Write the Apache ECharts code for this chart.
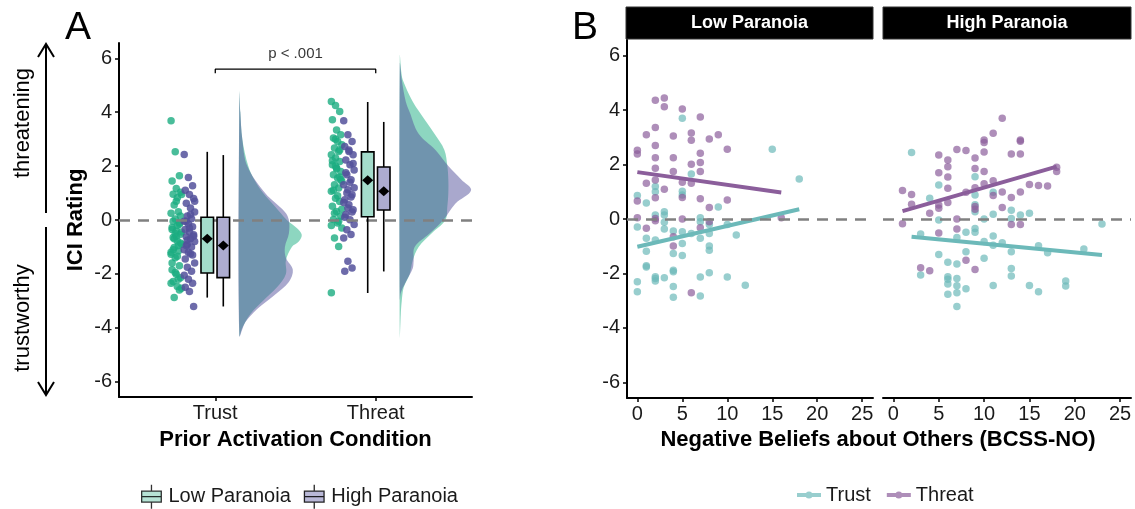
<!DOCTYPE html>
<html style="height: 100%">
<head>
<meta charset="utf-8">
<title>ICI Rating by condition and paranoia</title>
<script src="https://cdn.jsdelivr.net/npm/echarts@6.0.0/dist/echarts.min.js"></script>
</head>
<body style="height: 100%; margin: 0; background: #fff">
<div id="target" style="width: 1135px; height: 509px"></div>
<script>
// ---- data ----
const conditions = ['Trust', 'Threat'];
const groups = ['Low Paranoia', 'High Paranoia'];
const trials = ['Trust', 'Threat'];
const yTicks = [-6, -4, -2, 0, 2, 4, 6];
const bcssTicks = [0, 5, 10, 15, 20, 25];

// panel A: individual ICI ratings
const trustLow = [3.68, 2.53, 1.64, 1.45, 1.17, 1.03, 0.96, 0.83, 0.95, 0.56, 0.31, 0.25, 0.04, -0.16, -0.28,
  -0.41, -0.53, -0.65, -0.78, -0.9, -1.02, -1.15, -1.27, -1.4, -0.1, -0.35, -0.6, -0.85, -1.1, -0.2, -0.45,
  -0.7, -0.95, -1.2, -0.5, -1.7, -1.85, -2.01, -2.14, -2.28, -2.47, -2.53, -2.88, -2.2, -2.35, -1.95, -2.6, -1.6,
  0.7, 0.15, -0.05, -1.35];
const trustHigh = [2.43, 1.58, 1.27, 1.1, 0.95, 0.8, 0.62, 0.45, 0.3, 0.15, 0.05, -0.05, -0.15, -0.25, -0.35,
  -0.45, -0.55, -0.62, -0.7, -0.8, -0.9, -1.0, -1.1, -1.2, -1.3, -1.45, -0.3, -0.6, -0.95, 0.2, -1.6, -1.75,
  -1.9, -2.05, -2.2, -2.35, -2.5, -2.65, -3.21, -0.05, -1.25, 0.7, -0.75];
const threatLow = [4.4, 4.25, 4.03, 3.72, 3.34, 3.16, 3.04, 2.91, 2.79, 2.67, 2.54, 2.42, 2.3, 2.17, 2.05, 1.93,
  1.8, 1.68, 1.56, 1.44, 1.31, 1.19, 1.07, 0.81, 0.69, 0.51, 0.32, 0.14, 0.02, -0.11, -0.3, -0.67, -0.98, -2.7,
  3.0, 2.6, 2.2, 1.9, 1.5, 1.1, 0.9, 0.4, 0.25, -0.05, -0.2, 2.0, 1.6];
const threatHigh = [3.68, 3.16, 2.91, 2.73, 2.54, 2.42, 2.23, 2.05, 1.86, 1.68, 1.49, 1.31, 1.12, 0.94, 0.75,
  0.57, 0.38, 0.2, 0.01, -0.17, -0.36, -0.54, -0.67, -1.53, -1.78, -1.9, 2.6, 2.1, 1.75, 1.4, 1.2, 1.0, 0.85,
  0.65, 0.45, 0.3, 0.1];

// box summaries per condition: [lower whisker, Q1, Q3, upper whisker, mean]
const boxLow = [[-2.88, -1.97, 0.1, 2.53, -0.7], [-2.71, 0.12, 2.53, 4.38, 1.48]];
const boxHigh = [[-3.21, -2.14, 0.1, 2.41, -0.95], [-1.91, 0.37, 1.97, 3.64, 1.07]];

// half-violin densities: [rating, density]
const violinTrustLow = [[4.75, 0], [4, 0.01], [3, 0.03], [2, 0.09], [1.5, 0.15], [1, 0.24], [0.5, 0.36], [0, 0.48],
  [-0.3, 0.58], [-0.55, 0.63], [-0.8, 0.6], [-1, 0.53], [-1.5, 0.47], [-2, 0.47], [-2.5, 0.38], [-3, 0.24],
  [-3.5, 0.11], [-4, 0.03], [-4.3, 0]];
const violinTrustHigh = [[4.7, 0], [4, 0.01], [3, 0.03], [2, 0.08], [1, 0.26], [0.3, 0.46], [0, 0.5], [-0.5, 0.5],
  [-1, 0.46], [-1.4, 0.47], [-1.85, 0.54], [-2.3, 0.5], [-2.8, 0.35], [-3.3, 0.18], [-3.8, 0.06], [-4.3, 0]];
const violinThreatLow = [[6.1, 0], [5.5, 0.015], [5.2, 0.03], [4.4, 0.13], [4, 0.2], [3.2, 0.35], [2.6, 0.45],
  [2, 0.48], [1.5, 0.49], [1, 0.49], [0.5, 0.48], [0, 0.46], [-0.5, 0.32], [-1, 0.19], [-1.5, 0.13], [-2, 0.1],
  [-2.5, 0.04], [-3, 0.02], [-3.5, 0.01], [-4.37, 0]];
const violinThreatHigh = [[5.8, 0], [5.2, 0.02], [4.4, 0.06], [4, 0.1], [3.2, 0.19], [2.6, 0.36], [2, 0.49],
  [1.5, 0.62], [1.1, 0.72], [0.6, 0.56], [0, 0.44], [-0.5, 0.3], [-1, 0.15], [-1.5, 0.14], [-1.8, 0.13],
  [-2.3, 0.06], [-2.7, 0.01], [-3, 0]];

// panel B: [BCSS-NO, ICI rating]
const lowTrust = [[5, 3.7], [15, 2.56], [18, 1.47], [6, 1.65], [2, 1.19], [2, 1.0], [5, 1.02], [5, 0.88], [0, 0.86],
  [1, 0.59], [9, 0.44], [3, 0.27], [2, 0.15], [3, 0.15], [7, 0.05], [0, -0.29], [3, -0.12], [3, -0.37], [7, -0.1],
  [8, -0.2], [10, -0.2], [11, -0.59], [1, -0.71], [2, -0.77], [4, -0.44], [5, -0.47], [6, -0.53], [7, -0.71],
  [8, -0.53], [1, -1.18], [4, -1.27], [5, -0.9], [5, -1.34], [8, -0.99], [8, -1.15], [1, -1.72], [1, -1.76],
  [4, -1.88], [4, -1.94], [2, -2.12], [2, -2.18], [2, -2.28], [3, -2.16], [7, -2.13], [8, -1.97], [10, -2.13],
  [12, -2.43], [0, -2.3], [0, -2.67], [4, -2.48], [4, -2.87], [7, -2.83]];
const lowThreat = [[2, 4.36], [3, 4.44], [3, 4.12], [5, 4.04], [7, 3.74], [2, 3.36], [1, 3.09], [4, 3.05], [6, 3.16],
  [6, 2.89], [8, 2.94], [9, 3.09], [0, 2.52], [0, 2.39], [2, 2.7], [10, 2.56], [7, 2.41], [2, 2.25], [4, 2.25],
  [7, 2.07], [6, 2.01], [2, 1.86], [7, 1.74], [4, 1.74], [1, 1.31], [2, 1.43], [5, 1.35], [6, 1.31], [3, 1.09],
  [2, 0.78], [5, 0.79], [0, 0.66], [7, 0.74], [10, 0.7], [8, 0.42], [0, 0.05], [2, 0.02], [2, -0.06], [5, 0.0],
  [1, -0.34], [8, -0.1], [7, -0.32], [4, -0.65], [4, -0.99], [6, -2.71], [16, 0.05]];
const highTrust = [[2, 2.44], [9, 1.55], [5, 1.25], [4, 0.76], [9, 0.88], [11, 0.98], [9, 0.52], [9, 0.27], [11, 0.17],
  [13, 0.32], [14, 0.15], [15, 0.21], [5, -0.04], [10, 0.0], [13, 0.02], [23, -0.18], [3, -0.55], [7, -0.68],
  [8, -0.49], [9, -0.49], [9, -0.35], [11, -0.62], [10, -0.83], [11, -0.96], [12, -0.87], [13, -1.2], [16, -0.98],
  [17, -1.24], [21, -1.1], [5, -1.3], [8, -1.2], [10, -1.44], [6, -1.59], [7, -1.65], [3, -2.06], [6, -2.12],
  [6, -2.21], [6, -2.39], [7, -2.18], [7, -2.45], [7, -2.71], [6, -2.76], [8, -2.56], [11, -2.44], [13, -1.82],
  [13, -2.09], [15, -2.44], [16, -2.67], [19, -2.28], [19, -2.46], [7, -3.21]];
const highThreat = [[12, 3.7], [11, 3.15], [10, 2.9], [10, 2.81], [14, 2.9], [14, 2.85], [7, 2.55], [8, 2.51],
  [5, 2.35], [10, 2.46], [13, 2.39], [14, 2.39], [6, 2.17], [9, 2.24], [6, 1.92], [18, 1.9], [18, 1.74], [5, 1.7],
  [9, 1.85], [10, 1.74], [6, 1.54], [6, 1.13], [10, 1.29], [11, 1.4], [9, 1.15], [15, 1.27], [16, 1.23],
  [17, 1.21], [1, 1.05], [2, 0.9], [8, 0.98], [14, 0.99], [12, 0.99], [11, 0.86], [13, 0.79], [2, 0.54],
  [5, 0.51], [5, 0.39], [6, 0.61], [9, 0.46], [9, 0.36], [4, 0.21], [12, 0.42], [7, 0.0], [1, -0.17], [13, -0.2],
  [14, -0.2], [7, -0.37], [5, -0.51], [8, -1.51], [3, -1.79], [4, -1.9], [9, -1.85]];

// fitted regression lines: [start, end]
const lowTrustFit = [[0, -1.02], [18, 0.36]];
const lowThreatFit = [[0, 1.72], [16, 0.97]];
const highTrustFit = [[2, -0.65], [23, -1.32]];
const highThreatFit = [[1, 0.29], [18, 1.92]];

// ---- styling ----
const FONT = 'Liberation Sans, Arial, sans-serif';
const GREEN = '#1bad81';
const PURPLE = '#53519b';
const TEAL = '#6cb9b9';
const PLUM = '#8b5e9b';
const Y_MIN = -6.57, Y_MAX = 6.57;
const VIOLIN_OFFSET = 0.15;
const VIOLIN_SCALE = 100 / 162;

let chart = echarts.init(document.getElementById('target'));

// small deterministic horizontal spread for the rain points
const jit = i => (((i * 37) % 11) - 5) * 0.0065;

function rainData(values, cx) {
    return values.map((v, i) => [cx + jit(i), v]);
}

function boxRender(params, api) {
    const x = api.value(0);
    const hw = api.size([0.039, 0])[0];
    const lo = api.coord([x, api.value(1)]);
    const q1 = api.coord([x, api.value(2)]);
    const q3 = api.coord([x, api.value(3)]);
    const hi = api.coord([x, api.value(4)]);
    const mn = api.coord([x, api.value(5)]);
    const fill = api.value(6) === 0 ? '#a4dccb' : '#adacd0';
    const line = { stroke: '#000', lineWidth: 1.6 };
    return {
        type: 'group',
        children: [
            { type: 'line', shape: { x1: hi[0], y1: hi[1], x2: lo[0], y2: lo[1] }, style: line },
            { type: 'rect', shape: { x: q3[0] - hw, y: q3[1], width: hw * 2, height: q1[1] - q3[1] },
              style: { fill: fill, stroke: '#000', lineWidth: 1.6 } },
            { type: 'polygon', shape: { points: [[mn[0], mn[1] - 5], [mn[0] + 5.5, mn[1]], [mn[0], mn[1] + 5], [mn[0] - 5.5, mn[1]]] },
              style: { fill: '#000' } }
        ]
    };
}

function violinSeries(pts, cx, color, z) {
    return {
        type: 'custom',
        xAxisIndex: 0,
        yAxisIndex: 0,
        silent: true,
        z: z,
        data: [[cx, 0]],
        encode: { x: 0, y: 1 },
        renderItem: (params, api) => {
            const base = api.value(0) + VIOLIN_OFFSET;
            const poly = pts.map(p => api.coord([base + p[1] * VIOLIN_SCALE, p[0]]));
            return { type: 'polygon', shape: { points: poly, smooth: 0.35 }, style: { fill: color, opacity: 0.5 } };
        }
    };
}

const boxData = [];
conditions.forEach((c, i) => {
    boxData.push([i + 1 - 0.05, ...boxLow[i], 0]);
    boxData.push([i + 1 + 0.05, ...boxHigh[i], 1]);
});

const zeroLine = {
    silent: true,
    symbol: 'none',
    label: { show: false },
    lineStyle: { color: '#808080', width: 2.6, type: [11, 8] },
    data: [{ yAxis: 0 }]
};

const tickLabel = { color: '#1a1a1a', fontSize: 20, fontFamily: FONT };
const axisLine = { lineStyle: { color: '#000', width: 2 } };
const axisTick = { lineStyle: { color: '#000', width: 1.5 }, length: 4 };
const axisTitle = { color: '#000', fontSize: 22, fontWeight: 'bold', fontFamily: FONT };

function yAxisFor(gridIndex, showAxis) {
    return {
        type: 'value', gridIndex: gridIndex, min: Y_MIN, max: Y_MAX,
        splitLine: { show: false },
        axisLine: { show: showAxis, onZero: false, lineStyle: axisLine.lineStyle },
        axisTick: { show: showAxis, customValues: yTicks, ...axisTick },
        axisLabel: { show: showAxis, customValues: yTicks, margin: 7, ...tickLabel }
    };
}

function bcssAxis(gridIndex) {
    return {
        type: 'value', gridIndex: gridIndex, min: -1.15, max: 26.2,
        splitLine: { show: false },
        axisLine: { onZero: false, lineStyle: axisLine.lineStyle },
        axisTick: { customValues: bcssTicks, ...axisTick },
        axisLabel: { customValues: bcssTicks, margin: 6, ...tickLabel }
    };
}

const facetStrip = (x, w, text) => [
    { type: 'rect', shape: { x: x, y: 7, width: w, height: 32 }, style: { fill: '#000', stroke: '#333', lineWidth: 1 } },
    { type: 'text', x: x + w / 2, y: 23, style: { text: text, fill: '#fff', font: 'bold 18px ' + FONT, textAlign: 'center', textVerticalAlign: 'middle' } }
];

const boxIcon = 'path://M2,6 L20,6 L20,16 L2,16 Z M11,0 L11,6 M11,16 L11,22 M2,11 L20,11';
const lineIcon = 'path://M0,9 L24,9 L24,13 L0,13 Z M12,7.5 A3.5,3.5 0 1 1 12,14.5 A3.5,3.5 0 1 1 12,7.5 Z';

let option = {
    animation: false,
    backgroundColor: '#fff',
    textStyle: { fontFamily: FONT },
    grid: [
        { left: 119, top: 43, width: 353, height: 354 },
        { left: 627, top: 40, width: 246, height: 358 },
        { left: 883, top: 40, width: 248, height: 358 }
    ],
    xAxis: [
        {
            type: 'value', gridIndex: 0, min: 0.4, max: 2.6,
            splitLine: { show: false },
            axisLine: { onZero: false, lineStyle: axisLine.lineStyle },
            axisTick: { customValues: [1, 2], ...axisTick },
            axisLabel: { customValues: [1, 2], margin: 6, formatter: v => conditions[Math.round(v) - 1], ...tickLabel },
            name: 'Prior Activation Condition', nameLocation: 'middle', nameGap: 32, nameTextStyle: axisTitle
        },
        bcssAxis(1),
        bcssAxis(2)
    ],
    yAxis: [
        { ...yAxisFor(0, true), name: 'ICI Rating', nameLocation: 'middle', nameGap: 32, nameTextStyle: axisTitle },
        yAxisFor(1, true),
        yAxisFor(2, false)
    ],
    legend: [
        {
            left: 136, top: 479, itemWidth: 24, itemHeight: 24, itemGap: 13,
            textStyle: { fontSize: 20, color: '#1a1a1a', fontFamily: FONT },
            data: [
                { name: groups[0], icon: boxIcon, itemStyle: { color: '#a4dccb', borderColor: '#000', borderWidth: 1.3 } },
                { name: groups[1], icon: boxIcon, itemStyle: { color: '#adacd0', borderColor: '#000', borderWidth: 1.3 } }
            ]
        },
        {
            left: 792, top: 480, itemWidth: 24, itemHeight: 22, itemGap: 16,
            textStyle: { fontSize: 20, color: '#1a1a1a', fontFamily: FONT },
            data: [
                { name: trials[0], icon: lineIcon, itemStyle: { color: TEAL } },
                { name: trials[1], icon: lineIcon, itemStyle: { color: PLUM } }
            ]
        }
    ],
    graphic: [
        { type: 'text', x: 65, y: 28, style: { text: 'A', fill: '#000', font: '39px ' + FONT, textVerticalAlign: 'middle' } },
        { type: 'text', x: 572, y: 28, style: { text: 'B', fill: '#000', font: '39px ' + FONT, textVerticalAlign: 'middle' } },
        { type: 'text', x: 23, y: 123, rotation: Math.PI / 2,
          style: { text: 'threatening', fill: '#000', font: '22px ' + FONT, textAlign: 'center', textVerticalAlign: 'middle' } },
        { type: 'text', x: 23, y: 318, rotation: Math.PI / 2,
          style: { text: 'trustworthy', fill: '#000', font: '22px ' + FONT, textAlign: 'center', textVerticalAlign: 'middle' } },
        { type: 'line', shape: { x1: 46, y1: 44, x2: 46, y2: 213 }, style: { stroke: '#000', lineWidth: 2 } },
        { type: 'polyline', shape: { points: [[38, 57], [46, 44], [54, 57]] }, style: { stroke: '#000', lineWidth: 2, fill: null } },
        { type: 'line', shape: { x1: 46, y1: 227, x2: 46, y2: 395 }, style: { stroke: '#000', lineWidth: 2 } },
        { type: 'polyline', shape: { points: [[38, 382], [46, 395], [54, 382]] }, style: { stroke: '#000', lineWidth: 2, fill: null } },
        ...facetStrip(626, 247, groups[0]),
        ...facetStrip(883, 248, groups[1]),
        { type: 'text', x: 878, y: 440, style: { text: 'Negative Beliefs about Others (BCSS-NO)', fill: '#000',
          font: 'bold 22px ' + FONT, textAlign: 'center', textVerticalAlign: 'middle' } }
    ],
    series: [
        // panel A
        violinSeries(violinTrustLow, 1, GREEN, 1),
        violinSeries(violinTrustHigh, 1, PURPLE, 2),
        violinSeries(violinThreatLow, 2, GREEN, 1),
        violinSeries(violinThreatHigh, 2, PURPLE, 2),
        {
            type: 'line', xAxisIndex: 0, yAxisIndex: 0, data: [], z: 3, silent: true,
            markLine: zeroLine
        },
        {
            name: groups[0], type: 'scatter', xAxisIndex: 0, yAxisIndex: 0, z: 4, symbolSize: 7.5,
            itemStyle: { color: GREEN, opacity: 0.8 },
            data: [...rainData(trustLow, 1 - 0.243), ...rainData(threatLow, 2 - 0.244)]
        },
        {
            name: groups[1], type: 'scatter', xAxisIndex: 0, yAxisIndex: 0, z: 4, symbolSize: 7.5,
            itemStyle: { color: PURPLE, opacity: 0.85 },
            data: [...rainData(trustHigh, 1 - 0.161), ...rainData(threatHigh, 2 - 0.167)]
        },
        {
            type: 'custom', xAxisIndex: 0, yAxisIndex: 0, z: 5, silent: true,
            data: boxData, encode: { x: 0, y: [1, 2, 3, 4] },
            renderItem: boxRender
        },
        {
            type: 'line', xAxisIndex: 0, yAxisIndex: 0, z: 5, silent: true, symbol: 'none',
            lineStyle: { color: '#000', width: 1.3 },
            data: [[1, 5.45], [1, 5.6], [2, 5.6], [2, 5.45]]
        },
        {
            type: 'scatter', xAxisIndex: 0, yAxisIndex: 0, z: 5, silent: true, symbolSize: 0,
            label: { show: true, formatter: 'p < .001', color: '#000', fontSize: 15, fontFamily: FONT, position: 'inside' },
            data: [[1.5, 6.15]]
        },
        // panel B, low paranoia facet
        {
            name: trials[0], type: 'scatter', xAxisIndex: 1, yAxisIndex: 1, z: 2, symbolSize: 7.5,
            itemStyle: { color: TEAL, opacity: 0.7 }, data: lowTrust
        },
        {
            name: trials[1], type: 'scatter', xAxisIndex: 1, yAxisIndex: 1, z: 2, symbolSize: 7.5,
            itemStyle: { color: PLUM, opacity: 0.7 }, data: lowThreat
        },
        {
            type: 'line', xAxisIndex: 1, yAxisIndex: 1, data: [], z: 3, silent: true, markLine: zeroLine
        },
        {
            name: trials[0], type: 'line', xAxisIndex: 1, yAxisIndex: 1, z: 4, symbol: 'none',
            lineStyle: { color: TEAL, width: 4 }, itemStyle: { color: TEAL }, data: lowTrustFit
        },
        {
            name: trials[1], type: 'line', xAxisIndex: 1, yAxisIndex: 1, z: 4, symbol: 'none',
            lineStyle: { color: PLUM, width: 4 }, itemStyle: { color: PLUM }, data: lowThreatFit
        },
        // panel B, high paranoia facet
        {
            name: trials[0], type: 'scatter', xAxisIndex: 2, yAxisIndex: 2, z: 2, symbolSize: 7.5,
            itemStyle: { color: TEAL, opacity: 0.7 }, data: highTrust
        },
        {
            name: trials[1], type: 'scatter', xAxisIndex: 2, yAxisIndex: 2, z: 2, symbolSize: 7.5,
            itemStyle: { color: PLUM, opacity: 0.7 }, data: highThreat
        },
        {
            type: 'line', xAxisIndex: 2, yAxisIndex: 2, data: [], z: 3, silent: true, markLine: zeroLine
        },
        {
            name: trials[0], type: 'line', xAxisIndex: 2, yAxisIndex: 2, z: 4, symbol: 'none',
            lineStyle: { color: TEAL, width: 4 }, itemStyle: { color: TEAL }, data: highTrustFit
        },
        {
            name: trials[1], type: 'line', xAxisIndex: 2, yAxisIndex: 2, z: 4, symbol: 'none',
            lineStyle: { color: PLUM, width: 4 }, itemStyle: { color: PLUM }, data: highThreatFit
        }
    ]
};

chart.setOption(option);
</script>
</body>
</html>
